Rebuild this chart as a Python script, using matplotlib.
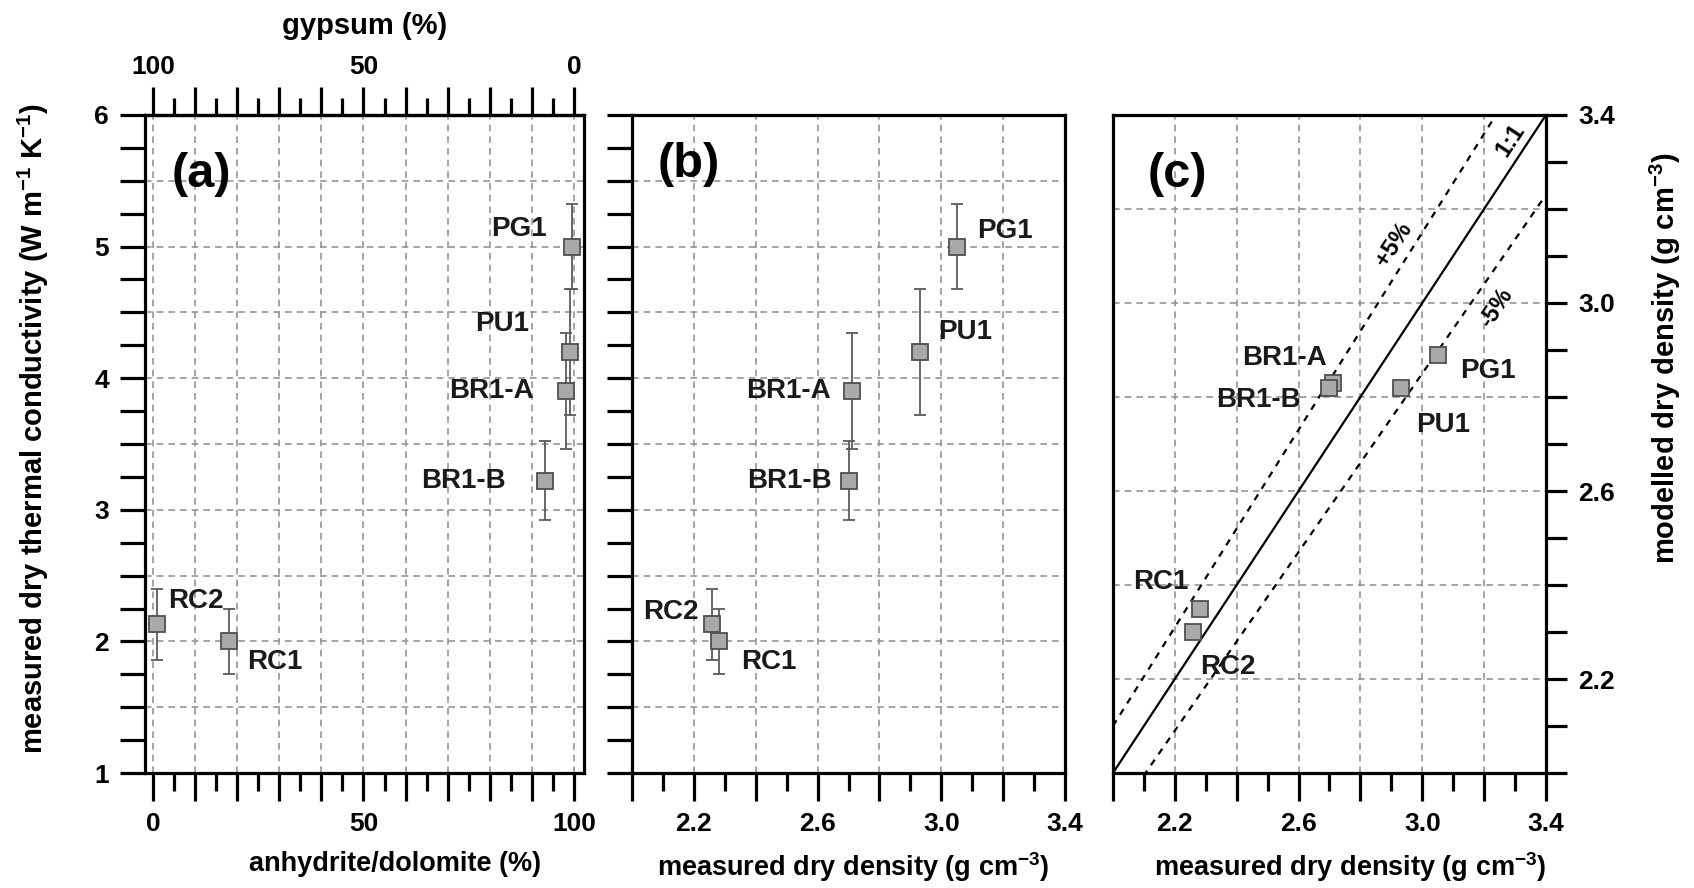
import matplotlib
matplotlib.use('Agg')
import matplotlib.pyplot as plt
from matplotlib.ticker import MultipleLocator, FuncFormatter

plt.rcParams['font.family'] = ['Liberation Sans', 'DejaVu Sans']
plt.rcParams['font.weight'] = 'bold'
plt.rcParams['axes.labelweight'] = 'bold'
plt.rcParams['mathtext.fontset'] = 'custom'
plt.rcParams['mathtext.rm'] = 'Liberation Sans:bold'
plt.rcParams['mathtext.default'] = 'regular'

# samples and measurements
samples = ['PG1', 'PU1', 'BR1-A', 'BR1-B', 'RC2', 'RC1']
anhydrite = [99.5, 99, 98, 93, 1, 18]            # anhydrite/dolomite (%)
conductivity = [5.0, 4.2, 3.9, 3.22, 2.13, 2.0]  # W m-1 K-1
cond_err = [0.32, 0.48, 0.44, 0.30, 0.27, 0.25]
density_meas = [3.05, 2.93, 2.71, 2.70, 2.26, 2.28]   # g cm-3
density_model = [2.89, 2.82, 2.83, 2.82, 2.30, 2.35]  # g cm-3

# label offsets (points) and alignment per panel
offs_a = {'PG1': (-18, 13, 'right'), 'PU1': (-29, 20, 'right'), 'BR1-A': (-23, 0, 'right'),
          'BR1-B': (-28, 0, 'right'), 'RC2': (8, 17, 'left'), 'RC1': (13, -15, 'left')}
offs_b = {'PG1': (15, 11, 'left'), 'PU1': (13, 14, 'left'), 'BR1-A': (-15, 0, 'right'),
          'BR1-B': (-12, 0, 'right'), 'RC2': (-10, 9, 'right'), 'RC1': (16, -15, 'left')}
offs_c = {'PG1': (16, -12, 'left'), 'PU1': (11, -27, 'left'), 'BR1-A': (-4, 18, 'right'),
          'BR1-B': (-21, -9, 'right'), 'RC2': (5, -25, 'left'), 'RC1': (-8, 19, 'right')}

TICK = 19
LAB = 19.5
VLAB = 21
grid_kw = dict(color='#959595', linestyle=(0, (4, 3)), linewidth=1.2)
mk_kw = dict(marker='s', markersize=11.5, markerfacecolor='#a9a9a9',
             markeredgecolor='#505050', markeredgewidth=1.3)

fig = plt.figure(figsize=(16.94, 8.88), dpi=100)
ax_a = fig.add_axes([0.0856, 0.1295, 0.2592, 0.7410])
ax_b = fig.add_axes([0.3731, 0.1295, 0.2556, 0.7410])
ax_c = fig.add_axes([0.6570, 0.1295, 0.2556, 0.7410])


def style(ax):
    for s in ax.spines.values():
        s.set_linewidth(2.3)
    ax.tick_params(which='both', direction='out', width=2.3, labelsize=TICK, pad=8)
    ax.grid(True, which='major', **grid_kw)
    ax.set_axisbelow(True)


def label_points(ax, xs, ys, offs):
    for name, x, y in zip(samples, xs, ys):
        dx, dy, ha = offs[name]
        ax.annotate(name, (x, y), xytext=(dx, dy), textcoords='offset points',
                    ha=ha, va='center', fontsize=20, color='#1a1a1a', zorder=5)


def only(vals):
    return FuncFormatter(lambda v, p: next((f'{t:.1f}' for t in vals if abs(v - t) < 1e-6), ''))


# (a) conductivity vs composition
ax = ax_a
style(ax)
ax.errorbar(anhydrite, conductivity, yerr=cond_err, fmt='none', ecolor='#5a5a5a',
            elinewidth=1.3, capsize=4, capthick=1.3, zorder=3)
ax.plot(anhydrite, conductivity, linestyle='none', zorder=4, **mk_kw)
label_points(ax, anhydrite, conductivity, offs_a)
ax.set_xlim(-1.9, 102.4)
ax.set_ylim(1, 6)
ax.xaxis.set_major_locator(MultipleLocator(10))
ax.xaxis.set_minor_locator(MultipleLocator(5))
ax.xaxis.set_major_formatter(FuncFormatter(lambda v, p: f'{v:.0f}' if round(v) % 50 == 0 else ''))
ax.yaxis.set_major_locator(MultipleLocator(0.5))
ax.yaxis.set_minor_locator(MultipleLocator(0.25))
ax.yaxis.set_major_formatter(FuncFormatter(lambda v, p: f'{v:.0f}' if abs(v - round(v)) < 1e-6 else ''))
ax.tick_params(axis='x', which='major', length=20)
ax.tick_params(axis='x', which='minor', length=13)
ax.tick_params(axis='y', which='both', length=18)
ax.set_xlabel('anhydrite/dolomite (%)', fontsize=LAB)
ax.xaxis.set_label_coords(0.57, -0.118)
ax.set_ylabel(r'measured dry thermal conductivity (W m$^{-1}$ K$^{-1}$)', fontsize=VLAB)
ax.yaxis.set_label_coords(-0.215, 0.524)
top = ax.secondary_xaxis('top', functions=(lambda x: 100 - x, lambda x: 100 - x))
top.xaxis.set_major_locator(MultipleLocator(10))
top.xaxis.set_minor_locator(MultipleLocator(5))
top.xaxis.set_major_formatter(FuncFormatter(lambda v, p: f'{v:.0f}' if round(v) % 50 == 0 else ''))
top.tick_params(which='both', direction='out', width=2.3, labelsize=TICK, pad=6)
top.tick_params(which='major', length=20)
top.tick_params(which='minor', length=12)
top.spines['top'].set_linewidth(2.3)
top.set_xlabel('gypsum (%)', fontsize=21, labelpad=15)
ax.text(0.06, 0.91, '(a)', transform=ax.transAxes, fontsize=35, va='center')

# (b) conductivity vs density
ax = ax_b
style(ax)
ax.errorbar(density_meas, conductivity, yerr=cond_err, fmt='none', ecolor='#5a5a5a',
            elinewidth=1.3, capsize=4, capthick=1.3, zorder=3)
ax.plot(density_meas, conductivity, linestyle='none', zorder=4, **mk_kw)
label_points(ax, density_meas, conductivity, offs_b)
ax.set_xlim(2.0, 3.4)
ax.set_ylim(1, 6)
ax.xaxis.set_major_locator(MultipleLocator(0.2))
ax.xaxis.set_minor_locator(MultipleLocator(0.1))
ax.xaxis.set_major_formatter(only([2.2, 2.6, 3.0, 3.4]))
ax.yaxis.set_major_locator(MultipleLocator(0.5))
ax.yaxis.set_minor_locator(MultipleLocator(0.25))
ax.yaxis.set_major_formatter(FuncFormatter(lambda v, p: ''))
ax.tick_params(axis='x', which='major', length=20)
ax.tick_params(axis='x', which='minor', length=13)
ax.tick_params(axis='y', which='both', length=18)
ax.set_xlabel(r'measured dry density (g cm$^{-3}$)', fontsize=LAB)
ax.xaxis.set_label_coords(0.51, -0.118)
ax.text(0.06, 0.925, '(b)', transform=ax.transAxes, fontsize=35, va='center')

# (c) modelled vs measured density
ax = ax_c
style(ax)
ref = [2.0, 3.4]
ax.plot(ref, ref, color='black', linewidth=1.6, zorder=2)
ax.plot(ref, [r * 1.05 for r in ref], color='black', linewidth=1.6, linestyle=(0, (3, 3)), zorder=2)
ax.plot(ref, [r * 0.95 for r in ref], color='black', linewidth=1.6, linestyle=(0, (3, 3)), zorder=2)
for x, y, s in [(3.284, 3.347, '1:1'), (2.909, 3.124, '+5%'), (3.24, 2.989, '-5%')]:
    ax.text(x, y, s, rotation=45, transform_rotates_text=True, rotation_mode='anchor',
            ha='center', va='center', fontsize=17)
ax.plot(density_meas, density_model, linestyle='none', zorder=4, **mk_kw)
label_points(ax, density_meas, density_model, offs_c)
ax.set_xlim(2.0, 3.4)
ax.set_ylim(2.0, 3.4)
ax.xaxis.set_major_locator(MultipleLocator(0.2))
ax.xaxis.set_minor_locator(MultipleLocator(0.1))
ax.xaxis.set_major_formatter(only([2.2, 2.6, 3.0, 3.4]))
ax.yaxis.set_major_locator(MultipleLocator(0.2))
ax.yaxis.set_minor_locator(MultipleLocator(0.1))
ax.yaxis.set_major_formatter(only([2.2, 2.6, 3.0, 3.4]))
ax.yaxis.tick_right()
ax.yaxis.set_label_position('right')
ax.tick_params(axis='x', which='major', length=20)
ax.tick_params(axis='x', which='minor', length=13)
ax.tick_params(axis='y', which='both', length=15)
ax.set_xlabel(r'measured dry density (g cm$^{-3}$)', fontsize=LAB)
ax.xaxis.set_label_coords(0.547, -0.118)
ax.set_ylabel(r'modelled dry density (g cm$^{-3}$)', fontsize=VLAB)
ax.yaxis.set_label_coords(1.235, 0.63)
ax.text(0.08, 0.91, '(c)', transform=ax.transAxes, fontsize=35, va='center')

fig.savefig('out.png', dpi=100)
